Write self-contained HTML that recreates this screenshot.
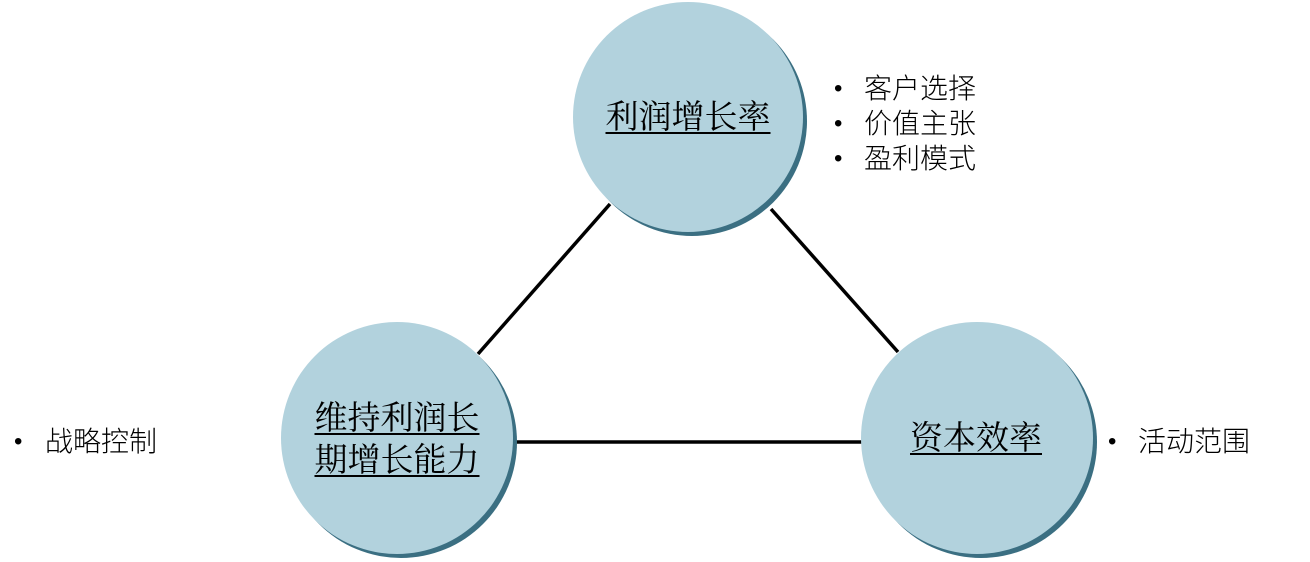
<!DOCTYPE html>
<html><head><meta charset="utf-8"><style>
body{margin:0;width:1310px;height:562px;background:#fff;position:relative;overflow:hidden}
.t{position:absolute;font-family:"Liberation Serif","Noto Serif CJK SC",serif;font-size:33px;text-decoration:underline;text-decoration-thickness:2px;text-underline-offset:4px;text-align:center;color:#000;line-height:42px}
.b{position:absolute;font-family:"Liberation Sans","Noto Sans CJK SC",sans-serif;font-size:28px;line-height:35px;color:#000;white-space:nowrap;font-weight:300}
.d{position:absolute;font-family:"Liberation Sans",sans-serif;font-size:24px;line-height:35px}
</style></head><body>
<svg width="1310" height="562" style="position:absolute;left:0;top:0">
<g stroke="#000" stroke-width="3.5">
<line x1="610" y1="204" x2="478" y2="354"/>
<line x1="771" y1="209" x2="898" y2="352"/>
<line x1="512" y1="442" x2="864" y2="442"/>
</g>
<circle cx="692" cy="121" r="115" fill="#3b6f82"/>
<circle cx="688" cy="117" r="115" fill="#b2d2dd"/>
<circle cx="401" cy="442" r="116" fill="#3b6f82"/>
<circle cx="397" cy="438" r="116" fill="#b2d2dd"/>
<circle cx="981" cy="442" r="116" fill="#3b6f82"/>
<circle cx="977" cy="438" r="116" fill="#b2d2dd"/>
</svg>
<div class="t" style="left:588px;top:97px;width:200px">利润增长率</div>
<div class="t" style="left:297px;top:398px;width:200px">维持利润长<br>期增长能力</div>
<div class="t" style="left:876px;top:418px;width:200px">资本效率</div>
<div class="d" style="left:834px;top:71px">•<br>•<br>•</div>
<div class="b" style="left:864px;top:71px">客户选择<br>价值主张<br>盈利模式</div>
<div class="d" style="left:14px;top:424px">•</div>
<div class="b" style="left:45px;top:424px">战略控制</div>
<div class="d" style="left:1108px;top:424px">•</div>
<div class="b" style="left:1138px;top:424px">活动范围</div>
</body></html>
